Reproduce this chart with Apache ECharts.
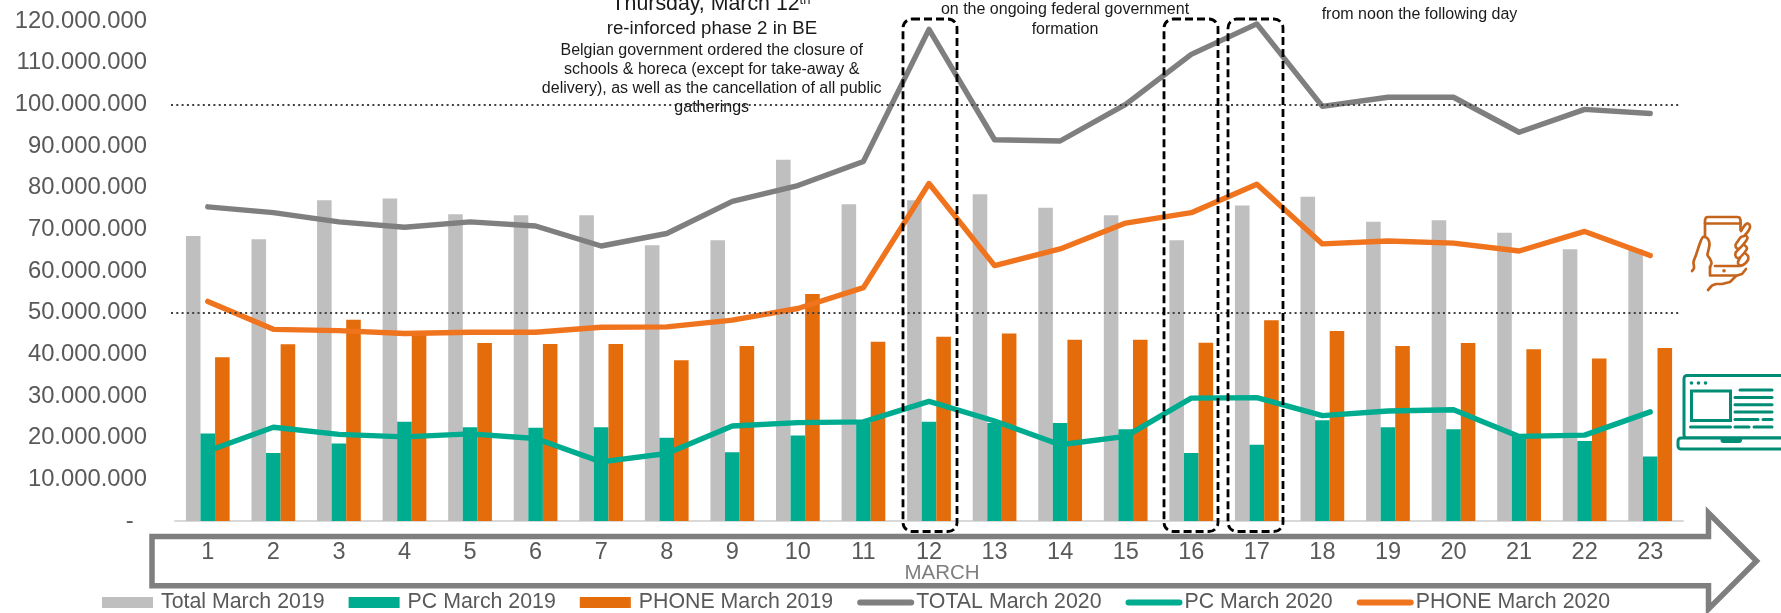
<!DOCTYPE html>
<html><head><meta charset="utf-8">
<style>html,body{margin:0;padding:0;background:#fff}#c{width:1781px;height:613px}</style>
<script src="https://cdn.jsdelivr.net/npm/echarts@6/dist/echarts.min.js"></script>
</head><body><div id="c"></div>
<script>
const days = ['1','2','3','4','5','6','7','8','9','10','11','12','13','14','15','16','17','18','19','20','21','22','23'];
const total2019 = [68.4,67.6,77,77.4,73.6,73.4,73.4,66.2,67.4,86.7,76,77,78.4,75.2,73.4,67.4,75.7,77.8,71.8,72.2,69.2,65.2,65.2];
const pc2019 = [21,16.3,18.6,23.8,22.5,22.4,22.5,20,16.5,20.5,23.5,23.8,23.5,23.5,22,16.3,18.3,24.2,22.5,22,20.5,19.2,15.5];
const phone2019 = [39.3,42.4,48.3,45,42.7,42.5,42.5,38.6,42,54.5,43,44.2,45,43.5,43.5,42.8,48.2,45.6,42,42.7,41.2,39,41.5];
const total2020 = [75.4,74,71.8,70.5,71.8,70.8,66,69,76.7,80.5,86.3,118,91.5,91.2,100,112,119.3,99.5,101.7,101.7,93.3,98.8,97.8];
const pc2020 = [16.8,22.5,20.8,20.2,20.9,19.8,14.2,16.2,22.8,23.6,23.8,28.7,24,18.3,20.3,29.5,29.6,25.3,26.4,26.7,20.3,20.6,26.2];
const phone2020 = [52.7,46,45.7,45,45.3,45.3,46.5,46.6,48.2,51,56,81,61.3,65.3,71.5,74,80.8,66.5,67.2,66.7,64.8,69.5,63.7];
const referenceLines = [50000000,100000000];
const barNames = ['Total March 2019','PC March 2019','PHONE March 2019'];
const lineNames = ['TOTAL March 2020','PC March 2020','PHONE March 2020'];
const note12 = ['re-inforced phase 2 in BE'];
const note12Small = ['Belgian government ordered the closure of','schools & horeca (except for take-away &','delivery), as well as the cancellation of all public','gatherings'];
const note16 = ['on the ongoing federal government','formation'];
const note17 = ['from noon the following day'];

const M = a => a.map(v => v*1000000);
const FONT = '"Liberation Sans", Arial, sans-serif';
const TXT = '#595959';
const NOTE = '#1a1a1a';
const chart = echarts.init(document.getElementById('c'), null, {renderer:'canvas'});

function label(text,x,y,size,extra){
  return {type:'text',x:x,y:y,z:50,silent:true,style:Object.assign({text:text,fill:NOTE,font:size+'px '+FONT,textAlign:'center',textVerticalAlign:'middle'},extra||{})};
}
function box(x1,x2){
  return {type:'rect',z:40,silent:true,shape:{x:x1,y:19,width:x2-x1,height:512.5,r:9},style:{fill:'none',stroke:'#000',lineWidth:2.8,lineDash:[8,4]}};
}
function strokes(list,color,width,smooth){
  return list.map(pts=>({type:'polyline',z:30,silent:true,shape:{points:pts,smooth:smooth||0},style:{fill:'none',stroke:color,lineWidth:width,lineCap:'round',lineJoin:'round'}}));
}
function dots(list,color,r){
  return list.map(p=>({type:'circle',z:30,silent:true,shape:{cx:p[0],cy:p[1],r:r},style:{fill:color}}));
}
const LAP='#008C75', PH='#C5651D';
const graphics = [
  {type:'polygon',z:1,silent:true,shape:{points:[[152,536.5],[1708.5,536.5],[1708.5,513],[1756.5,561],[1708.5,609],[1708.5,585.7],[152,585.7]]},style:{fill:'none',stroke:'#7F7F7F',lineWidth:5.5}},
  label('MARCH',942,573,20.5,{fill:'#7F7F7F'}),
  box(903,957),box(1164,1218),box(1228,1283),
  {type:'text',x:711,y:4.5,z:50,silent:true,style:{text:'{a|Thursday, March 12}{b|th}',textAlign:'center',textVerticalAlign:'middle',rich:{a:{fontSize:21.33,fontFamily:FONT,fill:NOTE},b:{fontSize:13,fontFamily:FONT,fill:NOTE,verticalAlign:'top'}}}},
  label(note12[0],712,29,18.67),
  ...note12Small.map((t,i)=>label(t,711.7,50.5+i*19.1,16)),
  ...note16.map((t,i)=>label(t,1065,10+i*20,16)),
  ...note17.map((t,i)=>label(t,1419.5,15,16)),
  // laptop icon
  {type:'rect',z:30,silent:true,shape:{x:1684,y:375.5,width:110,height:62.5,r:3},style:{fill:'#fff',stroke:LAP,lineWidth:3}},
  {type:'rect',z:30,silent:true,shape:{x:1678,y:438,width:120,height:11,r:3},style:{fill:'#fff',stroke:LAP,lineWidth:3}},
  {type:'rect',z:31,silent:true,shape:{x:1720.5,y:438,width:21.5,height:5,r:[0,0,3,3]},style:{fill:LAP}},
  {type:'rect',z:31,silent:true,shape:{x:1691.5,y:391,width:39,height:29.5},style:{fill:'#fff',stroke:LAP,lineWidth:3}},
  ...strokes([[[1740,390],[1772,390]],[[1735,397.5],[1772,397.5]],[[1735,404.8],[1772,404.8]],[[1735,412],[1772,412]],[[1735,419.5],[1758,419.5]],[[1763,419.5],[1772,419.5]],[[1690.5,427],[1730.5,427]],[[1735,427],[1749,427]],[[1754,427],[1772,427]]],LAP,3),
  ...dots([[1691.5,383],[1698.5,383],[1705.5,383]],LAP,1.8),
  // phone icon
  ...strokes([
    [[1705,237],[1705,220],[1706,217.5],[1708,217],[1737,217],[1739.5,217.5],[1740.5,220],[1740.5,230]],
    [[1705,223.5],[1740.5,223.5]],
    [[1740,266],[1715,266]],
    [[1710,267],[1710,275.5],[1737,275.5],[1742,274],[1746,269]],
    [[1708,290],[1712,285.5],[1716,284],[1722,284],[1730,282],[1736,276]]
  ],PH,2.7),
  ...strokes([
    [[1692,271],[1694,268],[1693.5,262],[1696,255],[1700,243],[1702.5,237.5],[1705,237],[1708,239],[1709.5,244],[1708.5,250],[1707.5,255],[1710,259],[1711.5,263],[1710,267]],
    [[1741,231],[1745,225],[1748,223.5],[1750,226],[1749,230],[1744,236],[1741,237],[1738,241],[1735.5,245],[1737,248.5],[1740,248],[1746,241],[1747.5,237.5],[1745,235]],
    [[1739,249],[1735.5,253],[1736,257],[1739,258],[1745,252],[1747,248],[1745,245.5]],
    [[1740,258],[1738,262],[1739,265],[1743,265],[1748,260],[1748,256],[1746,254]]
  ],PH,2.7,0.3),
  ...dots([[1724,270.7]],PH,1.8)
];
const barBase = {type:'bar',barGap:0,barCategoryGap:'33.3%',silent:true};
const lineBase = {type:'line',symbol:'none',smooth:false,silent:true,lineStyle:{width:5.4,cap:'round',join:'round'}};
const dotted = referenceLines.map(v=>[{x:171,yAxis:v},{x:1680,yAxis:v}]);
chart.setOption({
  animation:false,
  backgroundColor:'#fff',
  grid:{left:175,right:98,top:21,bottom:92,containLabel:false},
  legend:{left:102,top:592,padding:0,itemWidth:51,itemHeight:11,itemGap:24,selectedMode:false,
    textStyle:{fontFamily:FONT,fontSize:21.33,color:TXT},
    data:[
      ...barNames.map(n=>({name:n,icon:'rect',textStyle:{padding:[0,0,0,3]}})),
      ...lineNames.map(n=>({name:n,itemStyle:{opacity:0},lineStyle:{width:6,cap:'round'}}))
    ]},
  xAxis:{type:'category',data:days,axisTick:{show:false},
    axisLine:{lineStyle:{color:'#D9D9D9',width:2}},
    axisLabel:{fontFamily:FONT,fontSize:23.5,color:TXT,margin:20,interval:0}},
  yAxis:{type:'value',min:0,max:120000000,interval:10000000,axisLine:{show:false},axisTick:{show:false},splitLine:{show:false},
    axisLabel:{fontFamily:FONT,fontSize:23.8,color:TXT,margin:28,padding:[2,0,0,0],
      formatter:v=> v===0 ? '-\u00a0\u00a0' : String(v).replace(/\B(?=(\d{3})+$)/g,'.')}},
  series:[
    Object.assign({},barBase,{name:barNames[0],data:M(total2019),itemStyle:{color:'#BFBFBF'},
      markLine:{silent:true,symbol:'none',label:{show:false},animation:false,lineStyle:{color:'#404040',type:[2,3.3],width:2},data:dotted}}),
    Object.assign({},barBase,{name:barNames[1],data:M(pc2019),itemStyle:{color:'#00AC8F'}}),
    Object.assign({},barBase,{name:barNames[2],data:M(phone2019),itemStyle:{color:'#E46C0A'}}),
    Object.assign({},lineBase,{name:lineNames[0],data:M(total2020),itemStyle:{color:'#7F7F7F'},lineStyle:Object.assign({},lineBase.lineStyle,{color:'#7F7F7F'})}),
    Object.assign({},lineBase,{name:lineNames[1],data:M(pc2020),itemStyle:{color:'#00AC8F'},lineStyle:Object.assign({},lineBase.lineStyle,{color:'#00AC8F'})}),
    Object.assign({},lineBase,{name:lineNames[2],data:M(phone2020),itemStyle:{color:'#F0731E'},lineStyle:Object.assign({},lineBase.lineStyle,{color:'#F0731E'})})
  ],
  graphic:{elements:graphics}
});
</script></body></html>
